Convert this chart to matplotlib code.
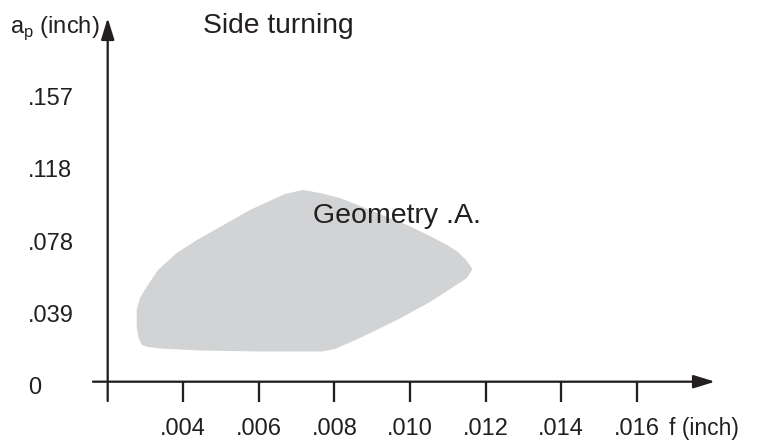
import numpy as np
import matplotlib
matplotlib.use('Agg')
import matplotlib.pyplot as plt
import matplotlib.transforms as mtransforms

plt.rcParams['font.family'] = ['Liberation Sans', 'DejaVu Sans']
plt.rcParams['mathtext.fontset'] = 'custom'
plt.rcParams['mathtext.rm'] = 'Liberation Sans'

# feed f (inch) vs depth of cut ap (inch), outline of the "Geometry .A." region
region_f = [0.002907, 0.002815, 0.002767, 0.002767, 0.002854, 0.003032, 0.003331,
            0.003825, 0.004362, 0.005765, 0.006690, 0.007167, 0.007616, 0.008146,
            0.008939, 0.009918, 0.010527, 0.010976, 0.011267, 0.011479, 0.011651,
            0.011505, 0.010527, 0.009653, 0.008675, 0.008013, 0.007669, 0.006029,
            0.004442, 0.003384, 0.003066]
region_ap = [0.02001, 0.02383, 0.02999, 0.03910, 0.04564, 0.05180, 0.06091,
             0.07018, 0.07727, 0.09363, 0.10235, 0.10453, 0.10290, 0.10017,
             0.09363, 0.08545, 0.07945, 0.07454, 0.07072, 0.06636, 0.06146,
             0.05655, 0.04346, 0.03364, 0.02383, 0.01783, 0.01647, 0.01647,
             0.01701, 0.01810, 0.01892]

x_ticks = [0.004, 0.006, 0.008, 0.010, 0.012, 0.014, 0.016]
x_labels = ['.004', '.006', '.008', '.010', '.012', '.014', '.016']
y_ticks = [0.0, 0.03937, 0.07874, 0.11811, 0.15748]
y_labels = ['0', '.039', '.078', '.118', '.157']

ink = '#231f20'
fill = '#d1d3d4'

fig = plt.figure(figsize=(7.64, 4.42), dpi=100)
ax = fig.add_axes([80 / 764, 32 / 442, 650 / 764, 400 / 442])
ax.set_xlim(0.0012672, 0.018463)
ax.set_ylim(-0.015432, 0.20268)

ax.fill(region_f, region_ap, color=fill, lw=0, zorder=1)

# axes drawn as arrows
arrow = dict(arrowstyle='-|>,head_length=0.65,head_width=0.2', mutation_scale=20,
             lw=1.65, color=ink, shrinkA=0, shrinkB=0)
ax.annotate('', xy=(0.018066, 0), xytext=(0.001611, 0), arrowprops=arrow, zorder=3)
ax.annotate('', xy=(0.002, 0.19832), xytext=(0.002, -0.010524), arrowprops=arrow, zorder=3)

for s in ax.spines.values():
    s.set_visible(False)
ax.spines['bottom'].set_position(('data', 0))

ax.set_xticks(x_ticks, x_labels)
ax.tick_params(axis='x', direction='out', length=14.4, width=1.65, color=ink,
               pad=12.0, labelsize=17, labelcolor=ink)
ax.set_yticks(y_ticks, y_labels)
ax.tick_params(axis='y', length=0, pad=37.4, labelsize=17, labelcolor=ink)
shift = mtransforms.ScaledTranslation(0, -3.8 / 100, fig.dpi_scale_trans)
for lab in ax.get_yticklabels():
    lab.set_horizontalalignment('left')
    lab.set_transform(lab.get_transform() + shift)

ax.text(0.00743, 0.0863, 'Geometry .A.', fontsize=20.5, color=ink, va='baseline', zorder=4)
fig.text(203 / 764, 1 - 33 / 442, 'Side turning', fontsize=20.3, color=ink, va='baseline')
fig.text(10 / 764, 1 - 33 / 442, r'a$_{\mathregular{p}}$ (inch)', fontsize=17, color=ink,
         va='baseline')
fig.text(669 / 764, 1 - 435 / 442, 'f (inch)', fontsize=16.5, color=ink, va='baseline')

fig.savefig('out.png', dpi=100)
